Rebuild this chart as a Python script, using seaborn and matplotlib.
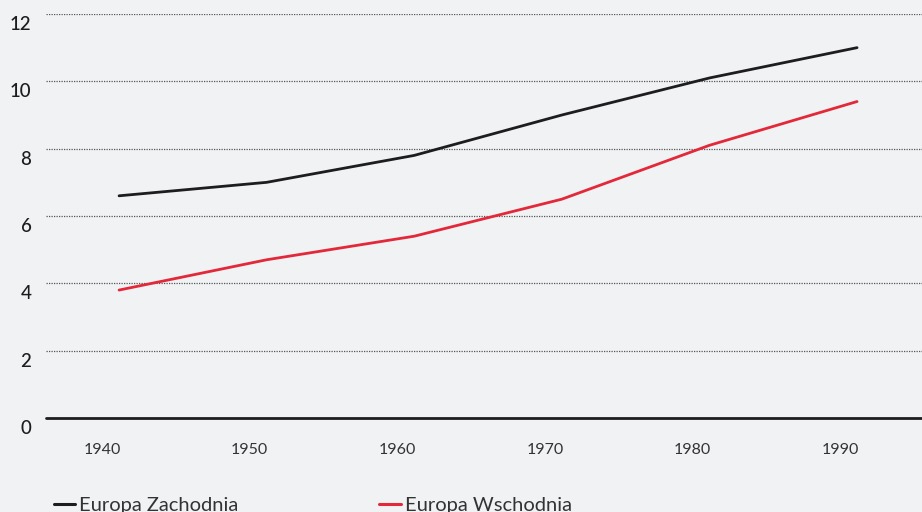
import pandas as pd
import seaborn as sns
import matplotlib.pyplot as plt
from matplotlib.transforms import ScaledTranslation

# data
years = [1940, 1950, 1960, 1970, 1980, 1990]
zachodnia = [6.6, 7.0, 7.8, 9.0, 10.1, 11.0]
wschodnia = [3.8, 4.7, 5.4, 6.5, 8.1, 9.4]
series_names = ["Europa Zachodnia", "Europa Wschodnia"]
y_ticks = [0, 2, 4, 6, 8, 10, 12]

df = pd.DataFrame({
    "rok": years * 2,
    "wartosc": zachodnia + wschodnia,
    "seria": [series_names[0]] * len(years) + [series_names[1]] * len(years),
})

bg = "#f1f2f4"
sns.set_style("white")
plt.rcParams["font.family"] = ["Lato", "DejaVu Sans"]

fig = plt.figure(figsize=(9.22, 5.12), dpi=100, facecolor=bg)
ax = fig.add_axes([46 / 922, 1 - 418 / 512, 1 - 46 / 922, 404 / 512])
ax.set_facecolor(bg)

sns.lineplot(data=df, x="rok", y="wartosc", hue="seria",
             palette={series_names[0]: "#1d1d1f", series_names[1]: "#e3283a"},
             linewidth=2, ax=ax, legend=False)

ax.set_xlim(1935.05, 1994.4)
ax.set_ylim(0, 12)
ax.set_yticks(y_ticks)
ax.set_xticks(years)
ax.set_xlabel("")
ax.set_ylabel("")

for s in ax.spines.values():
    s.set_visible(False)

for t in y_ticks[1:]:
    ax.axhline(t, color="#555555", linewidth=0.9, linestyle=(0, (1, 1)), zorder=0)
ax.axhline(0, color="#1d1d1f", linewidth=2, clip_on=False, zorder=3)

ax.tick_params(axis="y", length=0, pad=10.5, labelsize=13.5, labelcolor="#1d1d1f")
ax.tick_params(axis="x", length=0, pad=18, labelsize=11.5, labelcolor="#333333")
for lbl in ax.get_yticklabels():
    lbl.set_fontweight("medium")
shift = ScaledTranslation(-17 / 100, 0, fig.dpi_scale_trans)
for lbl in ax.get_xticklabels():
    lbl.set_transform(lbl.get_transform() + shift)
for lbl in ax.get_yticklabels():
    lbl.set_verticalalignment("top")
    lbl.set_transform(lbl.get_transform() + ScaledTranslation(0, -2 / 100, fig.dpi_scale_trans))

handles = [plt.Line2D([], [], color="#1d1d1f", linewidth=2.2),
           plt.Line2D([], [], color="#e3283a", linewidth=2.2)]
leg = fig.legend(handles, series_names, loc="center left",
                 bbox_to_anchor=(46 / 922, 7 / 512), ncol=2, frameon=False,
                 handlelength=1.05, handletextpad=0.2, columnspacing=7.0,
                 fontsize=14.5, borderaxespad=0)
for txt in leg.get_texts():
    txt.set_color("#333333")

fig.savefig("out.png", dpi=100, facecolor=bg)
